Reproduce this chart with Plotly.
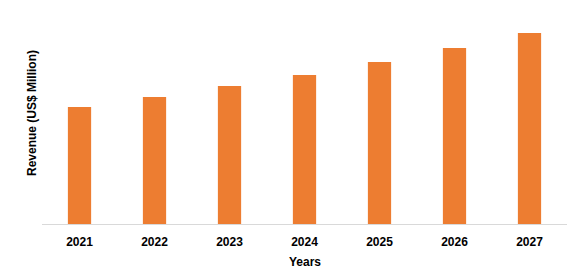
import plotly.graph_objects as go

years = ["2021", "2022", "2023", "2024", "2025", "2026", "2027"]
revenue = [117, 127, 138, 149, 162, 176, 191]

fig = go.Figure(go.Bar(x=years, y=revenue, marker_color="#ED7D31", marker_line_width=0))

W, H = 577, 280
L, R, T, B = 42, 10, 24, 56
pw, ph = W - L - R, H - T - B

fig.update_layout(
    width=W, height=H,
    margin=dict(l=L, r=R, t=T, b=B),
    plot_bgcolor="white", paper_bgcolor="white",
    bargap=0.69,
    showlegend=False,
    font=dict(family="Liberation Sans, Arial, sans-serif", color="#000000"),
    xaxis=dict(
        showline=True, linecolor="#D9D9D9", linewidth=1,
        ticks="", ticklabelstandoff=7,
        tickfont=dict(size=12, family="Liberation Sans", color="#000000", weight="bold"),
        showgrid=False,
    ),
    yaxis=dict(range=[0, 200], visible=False, showgrid=False),
    annotations=[
        dict(text="<b>Years</b>", xref="paper", yref="paper",
             x=0.5, y=(224 - 262) / ph, xanchor="center", yanchor="middle",
             showarrow=False, font=dict(size=12, color="#000000")),
        dict(text="<b>Revenue (US$ Million)</b>", xref="paper", yref="paper",
             x=(32 - L) / pw, y=(224 - 113) / ph, xanchor="center", yanchor="middle",
             textangle=-90, showarrow=False, font=dict(size=12, color="#000000")),
    ],
)

fig.write_html("out.html")
